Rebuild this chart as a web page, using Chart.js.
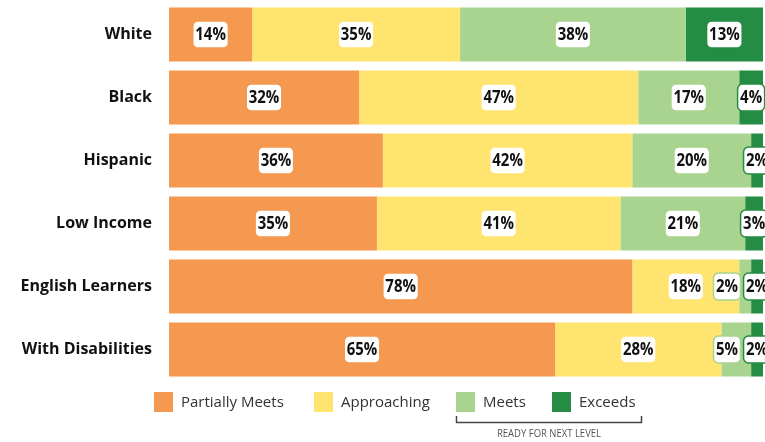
<!DOCTYPE html>
<html lang="en">
<head>
    <meta charset="UTF-8">
    <title>Performance Levels by Group</title>
    <script src="https://cdn.jsdelivr.net/npm/chart.js"></script>
    <style>
        body { margin: 0; background: #fff; }
        #wrap { width: 765px; height: 442px; }
    </style>
</head>
<body>
<div id="wrap"><canvas id="myChart"></canvas></div>
<script>
    const groups = ['White', 'Black', 'Hispanic', 'Low Income', 'English Learners', 'With Disabilities'];
    const levels = ['Partially Meets', 'Approaching', 'Meets', 'Exceeds'];
    const partiallyMeets = [14, 32, 36, 35, 78, 65];
    const approaching = [35, 47, 42, 41, 18, 28];
    const meets = [38, 17, 20, 21, 2, 5];
    const exceeds = [13, 4, 2, 3, 2, 2];
    const colors = ['#F4994F', '#FFE470', '#A8D48F', '#258C43'];
    const bracketCaption = 'READY FOR NEXT LEVEL';

    const series = [partiallyMeets, approaching, meets, exceeds];

    // white rounded value tags, pushed left when they would overlap
    const squeeze = 0.88;
    const valueTags = {
        id: 'valueTags',
        afterDatasetsDraw(chart) {
            const ctx = chart.ctx;
            ctx.save();
            ctx.font = 'bold 17px "Open Sans"';
            ctx.textAlign = 'center';
            ctx.textBaseline = 'middle';
            groups.forEach((g, i) => {
                const tags = [];
                chart.data.datasets.forEach((ds, d) => {
                    const bar = chart.getDatasetMeta(d).data[i];
                    const text = ds.data[i] + '%';
                    const w = ctx.measureText(text).width * squeeze + 5;
                    tags.push({ text, w, cx: (bar.x + bar.base) / 2, y: bar.y, color: ds.backgroundColor });
                });
                for (let k = tags.length - 2; k >= 0; k--) {
                    const next = tags[k + 1];
                    const limit = next.cx - next.w / 2 - 3;
                    if (tags[k].cx + tags[k].w / 2 > limit) tags[k].cx = limit - tags[k].w / 2;
                }
                tags.forEach(t => {
                    const h = 27, x = t.cx - t.w / 2, y = t.y - h / 2;
                    ctx.beginPath();
                    ctx.roundRect(x, y, t.w, h, 5);
                    ctx.fillStyle = '#fff';
                    ctx.fill();
                    ctx.lineWidth = 1.5;
                    ctx.strokeStyle = t.color;
                    ctx.stroke();
                    ctx.save();
                    ctx.translate(t.cx, t.y + 1);
                    ctx.scale(squeeze, 1);
                    ctx.fillStyle = '#111';
                    ctx.fillText(t.text, 0, 0);
                    ctx.restore();
                });
            });
            ctx.restore();
        }
    };

    const legendBlock = {
        id: 'legendBlock',
        afterDraw(chart) {
            const ctx = chart.ctx;
            const starts = [154, 314, 456, 552];
            ctx.save();
            ctx.font = '15px "Open Sans"';
            ctx.textBaseline = 'middle';
            ctx.textAlign = 'left';
            levels.forEach((name, i) => {
                ctx.fillStyle = colors[i];
                ctx.fillRect(starts[i], 392, 19, 20);
                ctx.fillStyle = '#333';
                ctx.fillText(name, starts[i] + 27, 403);
            });
            // bracket under Meets + Exceeds
            ctx.strokeStyle = '#444';
            ctx.lineWidth = 1.5;
            ctx.lineJoin = 'round';
            ctx.beginPath();
            ctx.moveTo(456.5, 416);
            ctx.lineTo(456.5, 422.5);
            ctx.lineTo(641.5, 422.5);
            ctx.lineTo(641.5, 416);
            ctx.stroke();
            ctx.font = '11px "Open Sans"';
            const tw = ctx.measureText(bracketCaption).width;
            ctx.translate(549, 434);
            ctx.scale(104 / tw, 1);
            ctx.textAlign = 'center';
            ctx.fillStyle = '#555';
            ctx.fillText(bracketCaption, 0, 0);
            ctx.restore();
        }
    };

    new Chart(document.getElementById('myChart'), {
        type: 'bar',
        data: {
            labels: groups,
            datasets: levels.map((name, i) => ({
                label: name,
                data: series[i],
                backgroundColor: colors[i],
                borderWidth: 0,
                barPercentage: 1,
                categoryPercentage: 54 / 63
            }))
        },
        options: {
            indexAxis: 'y',
            responsive: true,
            maintainAspectRatio: false,
            animation: false,
            layout: { padding: { top: 3, right: 2, bottom: 61, left: 0 } },
            plugins: {
                legend: { display: false },
                tooltip: { enabled: false }
            },
            scales: {
                x: {
                    stacked: true,
                    min: 0,
                    max: 100,
                    display: false
                },
                y: {
                    stacked: true,
                    border: { display: false },
                    grid: { display: false, drawTicks: false },
                    afterFit(axis) {
                        axis.width = 169;
                        axis.paddingTop = 0;
                        axis.paddingBottom = 0;
                    },
                    ticks: {
                        padding: 17,
                        color: '#111',
                        font: { family: '"Open Sans"', size: 16, weight: 'bold' }
                    }
                }
            }
        },
        plugins: [valueTags, legendBlock]
    });
</script>
</body>
</html>
